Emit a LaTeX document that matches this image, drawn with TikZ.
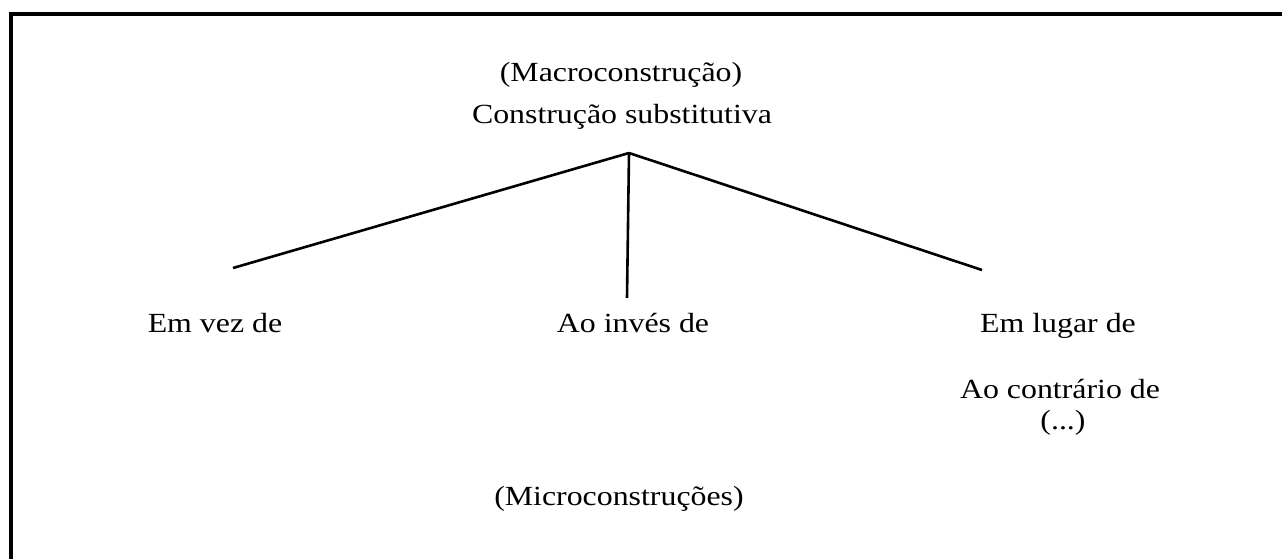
\documentclass[tikz,border=0pt]{standalone}
\usepackage{fontspec}
\setmainfont[FakeStretch=1.15]{Liberation Serif}
\begin{document}
\begin{tikzpicture}[x=1pt,y=-1pt,
  lbl/.style={inner sep=0pt,anchor=base,font=\fontsize{27.7}{32}\selectfont},
  branch/.style={line width=2.6pt,black},
  frame/.style={line width=3.5pt,black}]
\useasboundingbox (0,0) rectangle (1282,559);
\draw[frame] (11,559) -- (11,14) -- (1282,14);
\node[lbl] (macro) at (621,82) {(Macroconstrução)};
\node[lbl] (cs) at (622,124) {Construção substitutiva};
\coordinate (apex) at (629,153);
\coordinate (lend) at (233,268);
\coordinate (rend) at (982,270);
\coordinate (mend) at (627,298);
\draw[branch] (apex) -- (lend);
\draw[branch] (apex) -- (rend);
\draw[branch] (apex) -- (mend);
\node[lbl] (emvez) at (215,332) {Em vez de};
\node[lbl] (aoinves) at (633,332) {Ao invés de};
\node[lbl] (emlugar) at (1058,332) {Em lugar de};
\node[lbl] (aocontr) at (1060,398) {Ao contrário de};
\node[lbl] (etc) at (1063,429) {(...)};
\node[lbl] (micro) at (619,505) {(Microconstruções)};
\end{tikzpicture}
\end{document}
